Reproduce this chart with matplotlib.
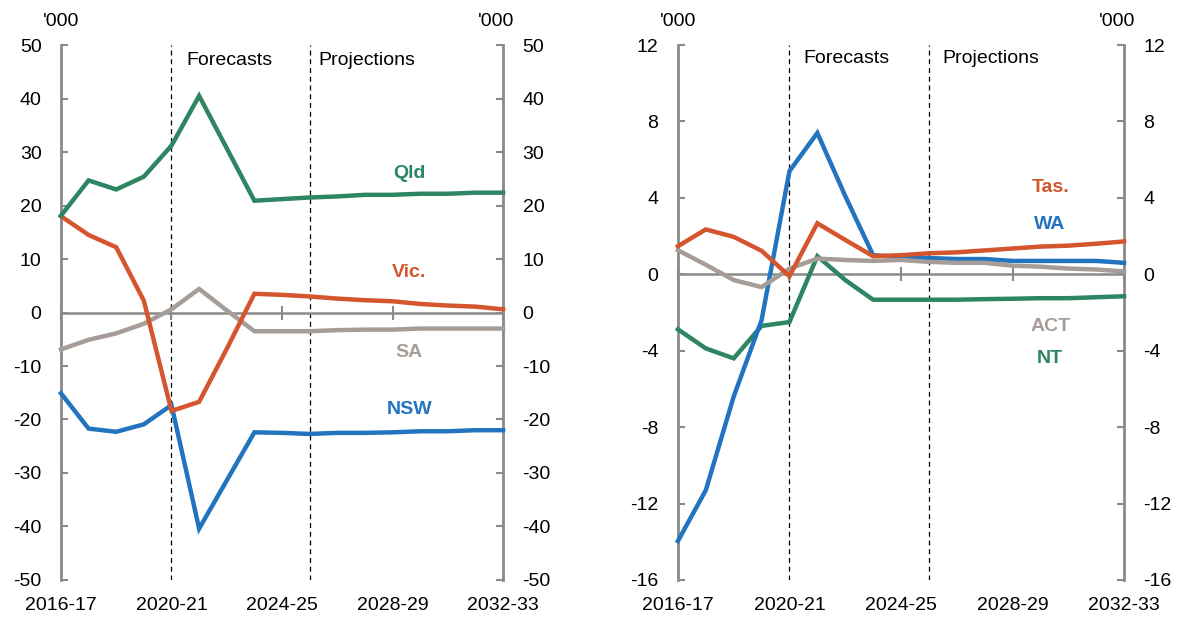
import matplotlib.pyplot as plt
import numpy as np

plt.rcParams['font.family'] = ['Liberation Sans', 'DejaVu Sans']
plt.rcParams['axes.unicode_minus'] = False

years = ['2016-17', '2017-18', '2018-19', '2019-20', '2020-21', '2021-22', '2022-23',
         '2023-24', '2024-25', '2025-26', '2026-27', '2027-28', '2028-29', '2029-30',
         '2030-31', '2031-32', '2032-33']
tick_labels = ['2016-17', '2020-21', '2024-25', '2028-29', '2032-33']

# Left panel: larger states ('000)
qld = [18.1, 24.7, 23.0, 25.4, 31.2, 40.5, 30.7, 20.9, 21.2, 21.5, 21.7, 22.0, 22.0, 22.2, 22.2, 22.4, 22.4]
vic = [18.0, 14.5, 12.2, 2.2, -18.4, -16.7, -6.8, 3.5, 3.3, 3.0, 2.6, 2.3, 2.1, 1.6, 1.3, 1.1, 0.6]
sa = [-6.9, -5.1, -3.9, -2.1, 0.6, 4.4, 0.4, -3.5, -3.5, -3.5, -3.3, -3.2, -3.2, -3.0, -3.0, -3.0, -3.0]
nsw = [-15.1, -21.7, -22.3, -20.9, -17.3, -40.4, -31.4, -22.4, -22.5, -22.7, -22.5, -22.5, -22.4, -22.2, -22.2, -22.0, -22.0]

# Right panel: smaller states and territories ('000)
tas = [1.47, 2.35, 1.96, 1.23, -0.1, 2.67, 1.8, 0.95, 1.0, 1.1, 1.15, 1.25, 1.35, 1.45, 1.5, 1.6, 1.72]
wa = [-13.96, -11.3, -6.4, -2.4, 5.4, 7.4, 4.1, 1.0, 0.9, 0.85, 0.8, 0.8, 0.7, 0.7, 0.7, 0.7, 0.6]
act = [1.26, 0.5, -0.3, -0.67, 0.3, 0.82, 0.75, 0.7, 0.75, 0.65, 0.6, 0.6, 0.45, 0.4, 0.3, 0.25, 0.15]
nt = [-2.88, -3.88, -4.4, -2.7, -2.5, 0.95, -0.3, -1.33, -1.33, -1.33, -1.33, -1.3, -1.28, -1.25, -1.25, -1.2, -1.15]

GREEN = '#2e8562'
RED = '#d4552e'
BLUE = '#2274bf'
GREY = '#a69d98'
AXIS = '#8a8a8a'

fig = plt.figure(figsize=(11.79, 6.17), dpi=100)
ax1 = fig.add_axes([0.0517, 0.06, 0.375, 0.867])
ax2 = fig.add_axes([0.575, 0.06, 0.3784, 0.867])

x = np.arange(len(years))


def style(ax, ylim, yticks):
    ax.set_xlim(0, len(years) - 1)
    ax.set_ylim(*ylim)
    ax.set_yticks(yticks)
    ax.tick_params(axis='y', left=True, right=True, labelleft=True, labelright=True,
                   direction='in', length=5, width=1.5, color=AXIS, labelsize=14, pad=14)
    for s in ['left', 'right']:
        ax.spines[s].set_color(AXIS)
        ax.spines[s].set_linewidth(2)
    ax.spines['top'].set_visible(False)
    # zero line acts as the x axis with tick marks
    ax.spines['bottom'].set_position(('data', 0))
    ax.spines['bottom'].set_color(AXIS)
    ax.spines['bottom'].set_linewidth(1.8)
    ax.set_xticks([years.index(t) for t in tick_labels])
    ax.tick_params(axis='x', direction='inout', length=10, width=1.5, color=AXIS,
                   labelbottom=False)
    sec = ax.secondary_xaxis('bottom')
    sec.set_xticks([years.index(t) for t in tick_labels], labels=tick_labels)
    sec.tick_params(length=0, labelsize=14, pad=12)
    sec.spines['bottom'].set_visible(False)
    # forecast / projection boundaries
    for yr in ['2020-21', '2025-26']:
        ax.axvline(years.index(yr), color='black', lw=0.9, ls=(0, (4, 3)), zorder=1)
    ax.text(0, 1.028, "'000", transform=ax.transAxes, ha='center', va='bottom', fontsize=14)
    ax.text(0.985, 1.028, "'000", transform=ax.transAxes, ha='center', va='bottom', fontsize=14)


style(ax1, (-50, 50), np.arange(-50, 51, 10))
style(ax2, (-16, 12), np.arange(-16, 13, 4))

lw = 3.2
for ax, series in [(ax1, [(sa, GREY), (nsw, BLUE), (vic, RED), (qld, GREEN)]),
                   (ax2, [(nt, GREEN), (wa, BLUE), (act, GREY), (tas, RED)])]:
    for vals, c in series:
        ax.plot(x, vals, color=c, lw=lw, solid_joinstyle='miter', zorder=3, clip_on=False)

ax1.text(4.55, 47.1, 'Forecasts', fontsize=14, va='center')
ax1.text(9.3, 47.1, 'Projections', fontsize=14, va='center')
ax2.text(4.5, 11.3, 'Forecasts', fontsize=14, va='center')
ax2.text(9.5, 11.3, 'Projections', fontsize=14, va='center')

lab = dict(fontsize=14, fontweight='bold', ha='center', va='center')
ax1.text(12.6, 26.0, 'Qld', color=GREEN, **lab)
ax1.text(12.6, 7.4, 'Vic.', color=RED, **lab)
ax1.text(12.6, -7.5, 'SA', color=GREY, **lab)
ax1.text(12.6, -18.1, 'NSW', color=BLUE, **lab)
ax2.text(13.35, 4.55, 'Tas.', color=RED, **lab)
ax2.text(13.35, 2.6, 'WA', color=BLUE, **lab)
ax2.text(13.35, -2.75, 'ACT', color=GREY, **lab)
ax2.text(13.35, -4.4, 'NT', color=GREEN, **lab)

plt.savefig('out.png', dpi=100)
